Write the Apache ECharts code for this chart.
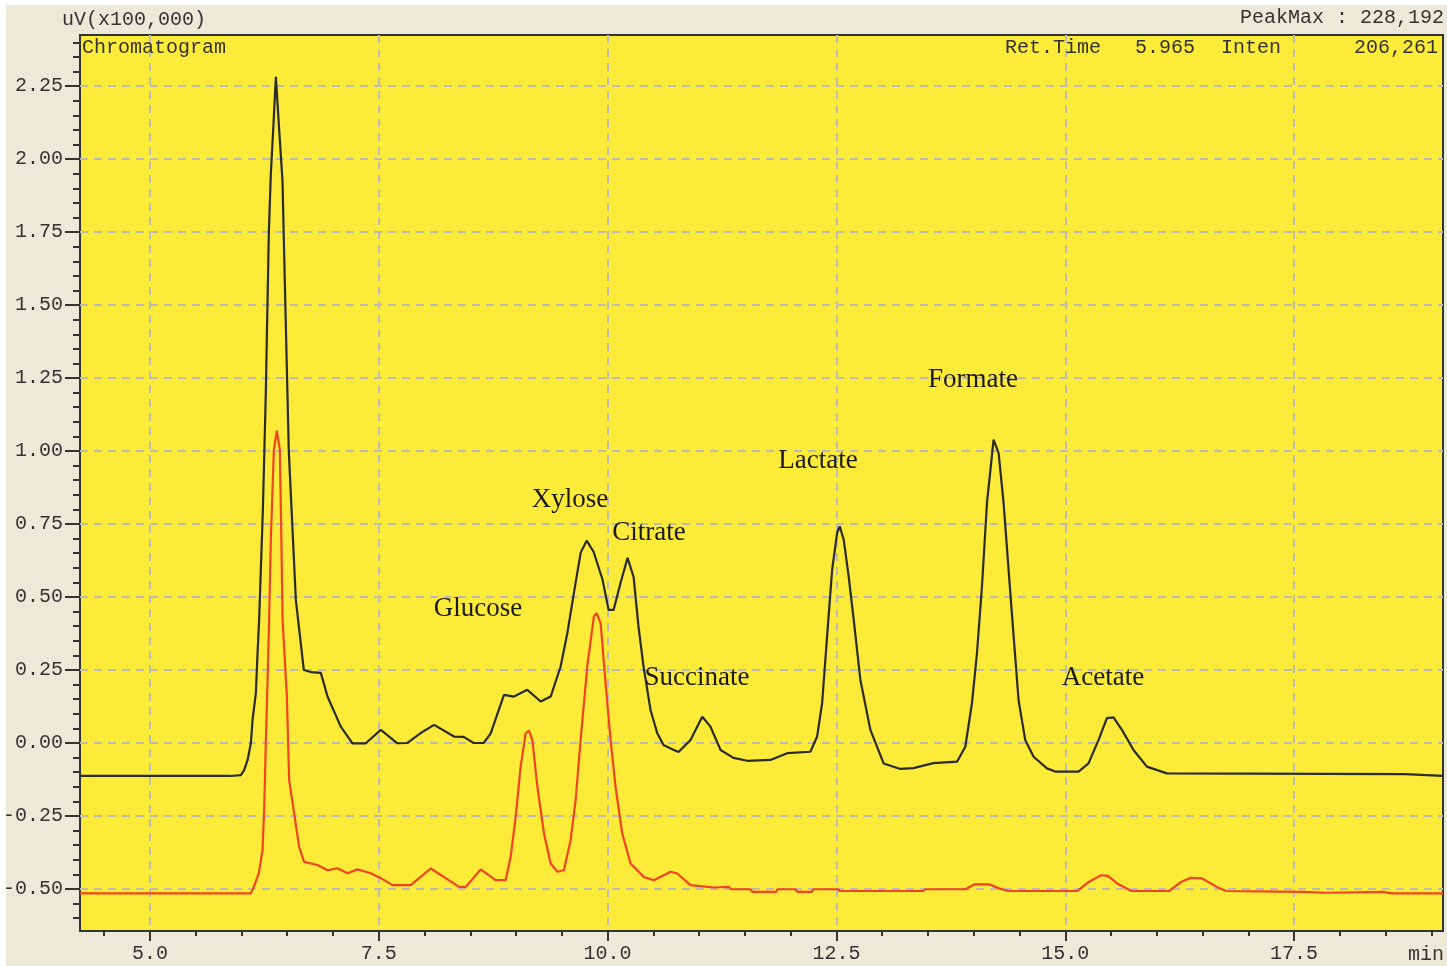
<!DOCTYPE html>
<html><head><meta charset="utf-8">
<script src="https://cdn.jsdelivr.net/npm/echarts@6/dist/echarts.min.js"></script>
<style>
html,body{margin:0;padding:0;background:#fff;}
#c{width:1447px;height:966px;
background:linear-gradient(#fff,#fff) top left/100% 5px no-repeat,linear-gradient(#fff,#fff) top left/6px 100% no-repeat,#ECE9D8;}
</style>
</head><body><div id="c"></div>
<script>
// ---- data (retention time in min, signal in uV x100,000) ----
const timeBlack = [4.236, 5.5, 5.88, 5.993, 6.029, 6.067, 6.103, 6.121, 6.157, 6.176, 6.193, 6.234, 6.266, 6.299, 6.321, 6.350, 6.376, 6.408, 6.449, 6.463, 6.517, 6.594, 6.681, 6.758, 6.867, 6.940, 7.085, 7.213, 7.358, 7.522, 7.704, 7.813, 7.958, 8.104, 8.322, 8.428, 8.537, 8.646, 8.723, 8.868, 8.977, 9.123, 9.269, 9.378, 9.487, 9.560, 9.629, 9.706, 9.771, 9.847, 9.945, 10.011, 10.066, 10.142, 10.218, 10.284, 10.338, 10.393, 10.469, 10.543, 10.611, 10.724, 10.775, 10.906, 11.034, 11.124, 11.234, 11.376, 11.525, 11.780, 11.962, 12.216, 12.289, 12.344, 12.398, 12.453, 12.508, 12.536, 12.580, 12.634, 12.689, 12.762, 12.871, 13.016, 13.199, 13.341, 13.559, 13.818, 13.908, 13.981, 14.036, 14.090, 14.145, 14.217, 14.272, 14.326, 14.381, 14.436, 14.490, 14.563, 14.654, 14.800, 14.891, 15.145, 15.254, 15.363, 15.455, 15.527, 15.619, 15.746, 15.892, 16.110, 18.712, 18.731, 19.127];
const signalBlack = [-0.113, -0.113, -0.113, -0.110, -0.093, -0.058, 0.0, 0.079, 0.170, 0.309, 0.422, 0.80, 1.20, 1.75, 1.95, 2.12, 2.282, 2.12, 1.92, 1.72, 1.00, 0.49, 0.25, 0.243, 0.240, 0.159, 0.056, -0.001, -0.001, 0.045, -0.001, 0.0, 0.034, 0.062, 0.022, 0.021, 0.0, 0.0, 0.033, 0.165, 0.159, 0.182, 0.142, 0.159, 0.262, 0.376, 0.508, 0.652, 0.693, 0.655, 0.559, 0.456, 0.456, 0.549, 0.634, 0.569, 0.398, 0.261, 0.113, 0.033, -0.007, -0.024, -0.031, 0.010, 0.090, 0.056, -0.024, -0.051, -0.061, -0.058, -0.035, -0.030, 0.022, 0.137, 0.365, 0.593, 0.720, 0.742, 0.696, 0.570, 0.422, 0.216, 0.045, -0.070, -0.089, -0.086, -0.069, -0.064, -0.013, 0.137, 0.309, 0.536, 0.823, 1.039, 0.993, 0.823, 0.593, 0.365, 0.147, 0.010, -0.047, -0.087, -0.098, -0.098, -0.070, 0.010, 0.085, 0.088, 0.045, -0.024, -0.081, -0.104, -0.107, -0.113, -0.113];
const timeRed = [4.236, 6.103, 6.135, 6.190, 6.230, 6.248, 6.266, 6.285, 6.302, 6.321, 6.354, 6.386, 6.419, 6.436, 6.449, 6.496, 6.521, 6.575, 6.630, 6.684, 6.831, 6.940, 7.048, 7.158, 7.267, 7.413, 7.522, 7.650, 7.849, 8.068, 8.377, 8.450, 8.614, 8.777, 8.886, 8.941, 8.996, 9.050, 9.105, 9.141, 9.178, 9.233, 9.305, 9.378, 9.451, 9.523, 9.596, 9.651, 9.705, 9.778, 9.850, 9.880, 9.924, 9.978, 10.033, 10.087, 10.160, 10.251, 10.396, 10.506, 10.688, 10.761, 10.906, 11.161, 11.325, 11.352, 11.558, 11.583, 11.843, 11.856, 12.050, 12.074, 12.231, 12.249, 12.515, 12.541, 13.446, 13.471, 13.913, 14.007, 14.170, 14.275, 14.378, 15.129, 15.258, 15.388, 15.465, 15.568, 15.721, 16.135, 16.266, 16.370, 16.496, 16.655, 16.758, 17.587, 17.845, 18.466, 18.570, 19.127];
const signalRed = [-0.515, -0.515, -0.493, -0.446, -0.367, -0.230, 0.0, 0.216, 0.422, 0.696, 1.005, 1.070, 1.005, 0.696, 0.422, 0.159, -0.127, -0.240, -0.356, -0.407, -0.418, -0.436, -0.429, -0.446, -0.433, -0.446, -0.463, -0.487, -0.487, -0.430, -0.493, -0.493, -0.433, -0.470, -0.470, -0.390, -0.253, -0.081, 0.033, 0.042, 0.010, -0.150, -0.310, -0.413, -0.441, -0.436, -0.333, -0.195, 0.010, 0.262, 0.433, 0.445, 0.410, 0.205, 0.010, -0.150, -0.310, -0.413, -0.459, -0.470, -0.441, -0.447, -0.487, -0.495, -0.493, -0.501, -0.501, -0.510, -0.510, -0.501, -0.501, -0.510, -0.510, -0.501, -0.501, -0.507, -0.507, -0.501, -0.501, -0.484, -0.484, -0.498, -0.507, -0.507, -0.476, -0.453, -0.455, -0.481, -0.507, -0.507, -0.476, -0.462, -0.464, -0.493, -0.507, -0.510, -0.513, -0.510, -0.515, -0.515];

const xTickLabels = [5.0, 7.5, 10.0, 12.5, 15.0, 17.5];
const yTickLabels = [-0.50, -0.25, 0.00, 0.25, 0.50, 0.75, 1.00, 1.25, 1.50, 1.75, 2.00, 2.25];
const peakNames = ['Glucose', 'Xylose', 'Citrate', 'Succinate', 'Lactate', 'Formate', 'Acetate'];
const headerTexts = {unit: 'uV(x100,000)', peakMax: 'PeakMax : 228,192', title: 'Chromatogram',
  retLabel: 'Ret.Time', retValue: '5.965', intenLabel: 'Inten', intenValue: '206,261', xUnit: 'min'};

// ---- layout ----
const X_MIN = 4.236, X_MAX = 19.127, Y_MIN = -0.644, Y_MAX = 2.425;
const xMinor = []; for (let i = 9; i <= 38; i++) xMinor.push(i * 0.5);
const yMinor = []; for (let i = -12; i <= 48; i++) yMinor.push(+(i * 0.05).toFixed(2));
const peakPos = [[478, 609], [570, 500], [649, 533], [697, 678], [818, 461], [973, 380], [1103, 678]];

const MONO = '"Liberation Mono", monospace';
const SERIF = '"Liberation Serif", "Times New Roman", serif';
const INK = '#333333';

const chart = echarts.init(document.getElementById('c'), null, {renderer: 'canvas'});
const zip = (a, b) => a.map((t, i) => [t, b[i]]);

const graphics = [];
function txt(x, y, s, align, font, size, color) {
  graphics.push({type: 'text', x: x, y: y, silent: true, z: 100,
    style: {text: s, textAlign: align, textVerticalAlign: 'middle', font: size + 'px ' + font, fill: color || INK}});
}
txt(62, 20, headerTexts.unit, 'left', MONO, 20);
txt(1444, 18, headerTexts.peakMax, 'right', MONO, 20);
txt(82, 48, headerTexts.title, 'left', MONO, 20);
txt(1005, 48, headerTexts.retLabel, 'left', MONO, 20);
txt(1135, 48, headerTexts.retValue, 'left', MONO, 20);
txt(1221, 48, headerTexts.intenLabel, 'left', MONO, 20);
txt(1438, 48, headerTexts.intenValue, 'right', MONO, 20);
txt(1444, 955, headerTexts.xUnit, 'right', MONO, 20);
peakNames.forEach((n, i) => txt(peakPos[i][0], peakPos[i][1], n, 'center', SERIF, 27, '#1a1a1a'));

const gridLine = {show: true, lineStyle: {color: '#BDBCB4', width: 2, type: [8, 6]}};
const noLine = {show: false, onZero: false};
chart.setOption({
  animation: false,
  backgroundColor: 'transparent',
  grid: {left: 79, right: 4, top: 35, bottom: 35, show: true, backgroundColor: '#FDEB3A', borderColor: '#333333', borderWidth: 2},
  xAxis: [
    {type: 'value', min: X_MIN, max: X_MAX, position: 'bottom', axisLine: noLine,
     axisTick: {show: true, length: 10, customValues: xTickLabels, lineStyle: {color: INK, width: 2}},
     axisLabel: {show: true, customValues: xTickLabels, formatter: v => v.toFixed(1), margin: 13,
       fontFamily: MONO, fontSize: 20, color: INK},
     splitLine: gridLine},
    {type: 'value', min: X_MIN, max: X_MAX, position: 'bottom', axisLine: noLine,
     axisTick: {show: true, length: 5, customValues: xMinor, lineStyle: {color: INK, width: 2}},
     axisLabel: {show: false}, splitLine: {show: false}}
  ],
  yAxis: [
    {type: 'value', min: Y_MIN, max: Y_MAX, position: 'left', axisLine: noLine,
     axisTick: {show: true, length: 15, customValues: yTickLabels, lineStyle: {color: INK, width: 2}},
     axisLabel: {show: true, customValues: yTickLabels, formatter: v => v.toFixed(2), margin: 17,
       fontFamily: MONO, fontSize: 20, color: INK},
     splitLine: gridLine},
    {type: 'value', min: Y_MIN, max: Y_MAX, position: 'left', axisLine: noLine,
     axisTick: {show: true, length: 7, customValues: yMinor, lineStyle: {color: INK, width: 2}},
     axisLabel: {show: false}, splitLine: {show: false}}
  ],
  graphic: graphics,
  series: [
    {type: 'line', name: 'Sample', data: zip(timeBlack, signalBlack), xAxisIndex: 0, yAxisIndex: 0,
     showSymbol: false, symbol: 'none', lineStyle: {color: '#2b2b2b', width: 2.2}, z: 3},
    {type: 'line', name: 'Standard', data: zip(timeRed, signalRed), xAxisIndex: 0, yAxisIndex: 0,
     showSymbol: false, symbol: 'none', lineStyle: {color: '#F04422', width: 2.2}, z: 4}
  ]
});
</script>
</body></html>
